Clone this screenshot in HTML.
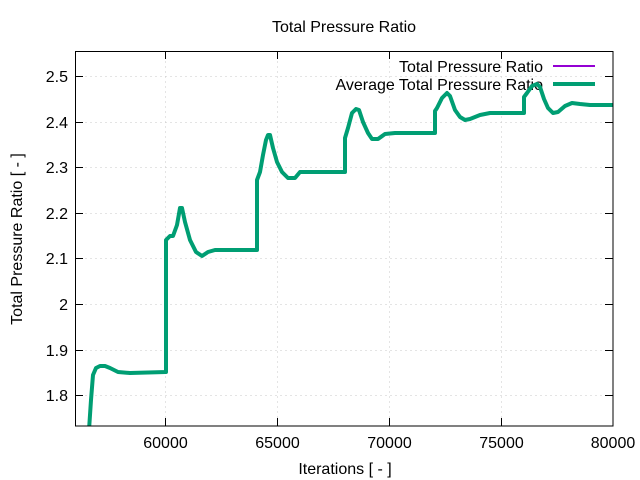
<!DOCTYPE html>
<html><head><meta charset="utf-8"><style>body{margin:0;background:#fff}svg{display:block}text{font-family:"Liberation Sans",sans-serif;font-size:16px;fill:#000}</style></head><body>
<svg width="640" height="480" viewBox="0 0 640 480">
<g stroke="#c8c8c8" stroke-width="1" stroke-dasharray="1,4">
<line x1="75.5" x2="613" y1="76.5" y2="76.5"/><line x1="75.5" x2="613" y1="122.5" y2="122.5"/><line x1="75.5" x2="613" y1="167.5" y2="167.5"/><line x1="75.5" x2="613" y1="213.5" y2="213.5"/><line x1="75.5" x2="613" y1="258.5" y2="258.5"/><line x1="75.5" x2="613" y1="304.5" y2="304.5"/><line x1="75.5" x2="613" y1="350.5" y2="350.5"/><line x1="75.5" x2="613" y1="395.5" y2="395.5"/>
<line x1="165.5" x2="165.5" y1="51.5" y2="426"/><line x1="277.5" x2="277.5" y1="51.5" y2="426"/><line x1="389.5" x2="389.5" y1="51.5" y2="426"/><line x1="501.5" x2="501.5" y1="51.5" y2="426"/>
</g>
<g stroke="#000" stroke-width="1">
<line x1="75.5" x2="83" y1="76.5" y2="76.5"/><line x1="75.5" x2="83" y1="122.5" y2="122.5"/><line x1="75.5" x2="83" y1="167.5" y2="167.5"/><line x1="75.5" x2="83" y1="213.5" y2="213.5"/><line x1="75.5" x2="83" y1="258.5" y2="258.5"/><line x1="75.5" x2="83" y1="304.5" y2="304.5"/><line x1="75.5" x2="83" y1="350.5" y2="350.5"/><line x1="75.5" x2="83" y1="395.5" y2="395.5"/>
<line x1="613" x2="605" y1="76.5" y2="76.5"/><line x1="613" x2="605" y1="122.5" y2="122.5"/><line x1="613" x2="605" y1="167.5" y2="167.5"/><line x1="613" x2="605" y1="213.5" y2="213.5"/><line x1="613" x2="605" y1="258.5" y2="258.5"/><line x1="613" x2="605" y1="304.5" y2="304.5"/><line x1="613" x2="605" y1="350.5" y2="350.5"/><line x1="613" x2="605" y1="395.5" y2="395.5"/>
<line x1="165.5" x2="165.5" y1="426" y2="418"/><line x1="277.5" x2="277.5" y1="426" y2="418"/><line x1="389.5" x2="389.5" y1="426" y2="418"/><line x1="501.5" x2="501.5" y1="426" y2="418"/>
<line x1="165.5" x2="165.5" y1="51.5" y2="59"/><line x1="277.5" x2="277.5" y1="51.5" y2="59"/><line x1="389.5" x2="389.5" y1="51.5" y2="59"/><line x1="501.5" x2="501.5" y1="51.5" y2="59"/>
</g>
<g text-anchor="end"><text x="68" y="82">2.5</text><text x="68" y="128">2.4</text><text x="68" y="173">2.3</text><text x="68" y="219">2.2</text><text x="68" y="264">2.1</text><text x="68" y="310">2</text><text x="68" y="356">1.9</text><text x="68" y="401">1.8</text></g>
<g text-anchor="middle"><text x="165.5" y="448">60000</text><text x="277.5" y="448">65000</text><text x="389.5" y="448">70000</text><text x="501.5" y="448">75000</text><text x="613" y="448">80000</text>
<text x="345" y="474">Iterations [ - ]</text><text x="344" y="32">Total Pressure Ratio</text>
<text transform="translate(22,239) rotate(-90)">Total Pressure Ratio [ - ]</text></g>
<g text-anchor="end"><text x="543" y="72">Total Pressure Ratio</text><text x="543" y="90">Average Total Pressure Ratio</text></g>
<line x1="553" x2="595" y1="66" y2="66" stroke="#9400d3" stroke-width="2"/>
<line x1="553" x2="595" y1="84" y2="84" stroke="#009e73" stroke-width="4"/>
<clipPath id="c"><rect x="75.5" y="51.5" width="537.5" height="374.5"/></clipPath>
<defs><path id="p" d="M89,430 L91,400 L93,375 L96,368 L100,366 L105,366 L110,368 L118,372 L130,373 L166,372 L166,240 L170,236 L173,236 L177,225 L180,208 L182,208 L185,222 L190,240 L196,252 L202,256 L208,252 L215,250 L257,250 L257,180 L260,172 L263,155 L266,140 L268,135 L270,135 L273,148 L277,162 L282,172 L288,178 L295,178 L300,172 L345,172 L345,138 L348,128 L352,113 L356,109 L359,110 L363,122 L368,133 L372,139 L378,139 L385,134 L395,133 L435,133 L435,111 L437,108 L442,98 L447,93 L450,96 L455,110 L460,117 L465,120 L470,119 L480,115 L490,113 L524,113 L524,97 L527,93 L532,86 L537,84 L540,87 L544,99 L548,108 L553,113 L558,112 L565,106 L572,103 L580,104 L590,105 L613,105"/></defs>
<g clip-path="url(#c)" fill="none" stroke-linejoin="round">
<use href="#p" stroke="#9400d3" stroke-width="2"/>
<use href="#p" stroke="#009e73" stroke-width="4"/>
</g>
<rect x="75.5" y="51.5" width="537.5" height="374.5" fill="none" stroke="#000" stroke-width="1"/>
</svg>
</body></html>
